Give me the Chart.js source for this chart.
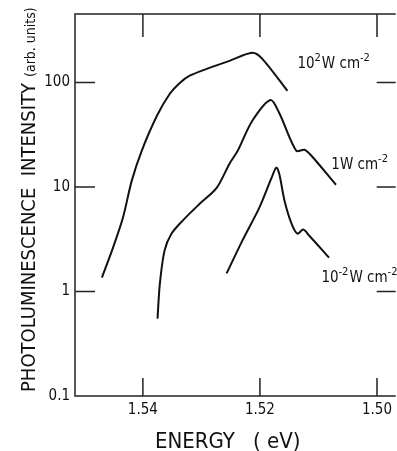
<!DOCTYPE html>
<html>
<head>
<meta charset="utf-8">
<script src="https://cdn.jsdelivr.net/npm/chart.js@4.4.0/dist/chart.umd.min.js"></script>
<style>
  html, body { margin: 0; padding: 0; background: #fff; }
  canvas { display: block; }
</style>
</head>
<body>
<canvas id="pl_chart" width="397" height="451"></canvas>
<script>
// photoluminescence spectra, energy in eV, intensity in arb. units
const high_energy = [1.5470, 1.5451, 1.5434, 1.5419, 1.5402, 1.5376, 1.5354, 1.5337, 1.5320, 1.5291, 1.5252, 1.5213, 1.5196, 1.5153];
const high_int    = [1.36,   2.63,   5.1,    11.5,   22.2,   48,     78,     99,     116,    135,    161,    192,    168,    83];

const mid_energy  = [1.5375, 1.5371, 1.5363, 1.5351, 1.5332, 1.5303, 1.5274, 1.5252, 1.5238, 1.5213, 1.5182, 1.5167, 1.5138, 1.5124, 1.5112, 1.5070];
const mid_int     = [0.55,   1.19,   2.46,   3.58,   4.77,   6.9,    9.8,    16.7,   22.2,   43,     68,     51,     22.2,   22.7,   19.9,   10.5];

const low_energy  = [1.5257, 1.5230, 1.5201, 1.5180, 1.5172, 1.5167, 1.5158, 1.5146, 1.5136, 1.5126, 1.5116, 1.5082];
const low_int     = [1.49,   3.07,   6.35,   12.3,   15.3,   13.4,   7.4,    4.46,   3.58,   3.91,   3.43,   2.11];

const x_ticks = [1.54, 1.52, 1.50];
const y_ticks = [0.1, 1, 10, 100];

const font_family = '"DejaVu Sans Condensed", "Liberation Sans Narrow", "DejaVu Sans", sans-serif';

function to_points( xs, ys ){
    return xs.map( ( x, i ) => ({ x: x, y: ys[i] }) );
}

function make_dataset( label, xs, ys ){
    return {
        label: label,
        data: to_points( xs, ys ),
        borderColor: '#111',
        borderWidth: 2,
        pointRadius: 0,
        fill: false,
        tension: 0.3
    };
}

// draws "10^2 W cm^-2" style text, parts alternate normal / superscript
function draw_rich( ctx, x, y, parts ){
    let cx = x;
    parts.forEach( ( p, i ) => {
        let sup = i % 2 == 1;
        ctx.font = ( sup ? '11px ' : '15px ' ) + font_family;
        ctx.fillText( p, cx, sup ? y - 7 : y );
        cx += ctx.measureText( p ).width + ( sup ? 1 : 0 );
    });
}

const curve_labels = [
    { e: 1.5136, v: 138,  parts: ['10', '2', 'W cm', '-2'] },
    { e: 1.5078, v: 15.0, parts: ['1W cm', '-2'] },
    { e: 1.5095, v: 1.22, parts: ['10', '-2', 'W cm', '-2'] }
];

const frame_plugin = {
    id: 'frame',
    beforeDraw( chart ){
        let ctx = chart.ctx;
        ctx.save();
        ctx.fillStyle = '#fff';
        ctx.fillRect( 0, 0, chart.width, chart.height );
        ctx.restore();
    },
    afterDraw( chart ){
        let ctx = chart.ctx;
        let ca  = chart.chartArea;
        let xs  = chart.scales.x;
        let ys  = chart.scales.y;

        ctx.save();
        ctx.strokeStyle = '#222';
        ctx.lineWidth = 1.5;
        ctx.beginPath();
        ctx.moveTo( ca.right, ca.top );
        ctx.lineTo( ca.left, ca.top );
        ctx.lineTo( ca.left, ca.bottom );
        ctx.lineTo( ca.right, ca.bottom );

        // inward ticks
        y_ticks.forEach( v => {
            if( v == 0.1 ) return;
            let y = ys.getPixelForValue( v );
            ctx.moveTo( ca.left, y );
            ctx.lineTo( ca.left + 20, y );
            ctx.moveTo( ca.right - 19, y );
            ctx.lineTo( ca.right, y );
        });
        x_ticks.forEach( v => {
            let x = xs.getPixelForValue( v );
            ctx.moveTo( x, ca.bottom );
            ctx.lineTo( x, ca.bottom - 18 );
            ctx.moveTo( x, ca.top );
            ctx.lineTo( x, ca.top + 23 );
        });
        ctx.stroke();

        ctx.fillStyle = '#111';
        ctx.textBaseline = 'alphabetic';
        ctx.textAlign = 'left';

        curve_labels.forEach( l => {
            draw_rich( ctx, xs.getPixelForValue( l.e ), ys.getPixelForValue( l.v ), l.parts );
        });

        // x title
        ctx.font = '22px ' + font_family;
        ctx.fillText( 'ENERGY', 155, 448 );
        ctx.fillText( '( eV)', 253, 448 );

        // y title, rotated, read bottom to top
        ctx.translate( 35, 392 );
        ctx.rotate( -Math.PI / 2 );
        ctx.font = '20px ' + font_family;
        let main = 'PHOTOLUMINESCENCE  INTENSITY';
        ctx.fillText( main, 0, 0 );
        let w = ctx.measureText( main ).width;
        ctx.font = '14px ' + font_family;
        ctx.fillText( '(arb. units)', w + 6, 0 );
        ctx.restore();
    }
};

const config = {
    type: 'line',
    data: {
        datasets: [
            make_dataset( '10^2 W cm^-2', high_energy, high_int ),
            make_dataset( '1 W cm^-2', mid_energy, mid_int ),
            make_dataset( '10^-2 W cm^-2', low_energy, low_int )
        ]
    },
    options: {
        responsive: false,
        animation: false,
        devicePixelRatio: 1,
        layout: { padding: { top: 13, left: 0, right: 0, bottom: 0 } },
        plugins: {
            legend: { display: false },
            tooltip: { enabled: false }
        },
        scales: {
            x: {
                type: 'linear',
                reverse: true,
                min: 1.4968,
                max: 1.5516,
                grid: { display: false, drawTicks: false },
                border: { display: false },
                afterBuildTicks: ( scale ) => { scale.ticks = x_ticks.map( v => ({ value: v }) ); },
                afterFit: ( scale ) => { scale.height = 55; },
                ticks: {
                    padding: 5,
                    color: '#111',
                    maxRotation: 0,
                    font: { family: font_family, size: 15 },
                    callback: ( v ) => v.toFixed( 2 )
                }
            },
            y: {
                type: 'logarithmic',
                min: 0.1,
                max: 452,
                grid: { display: false, drawTicks: false },
                border: { display: false },
                afterBuildTicks: ( scale ) => { scale.ticks = y_ticks.map( v => ({ value: v }) ); },
                afterFit: ( scale ) => { scale.width = 75; },
                ticks: {
                    padding: 5,
                    color: '#111',
                    font: { family: font_family, size: 15 },
                    callback: ( v ) => String( v )
                }
            }
        }
    },
    plugins: [ frame_plugin ]
};

const pl_chart = new Chart( document.getElementById( 'pl_chart' ), config );
</script>
</body>
</html>
